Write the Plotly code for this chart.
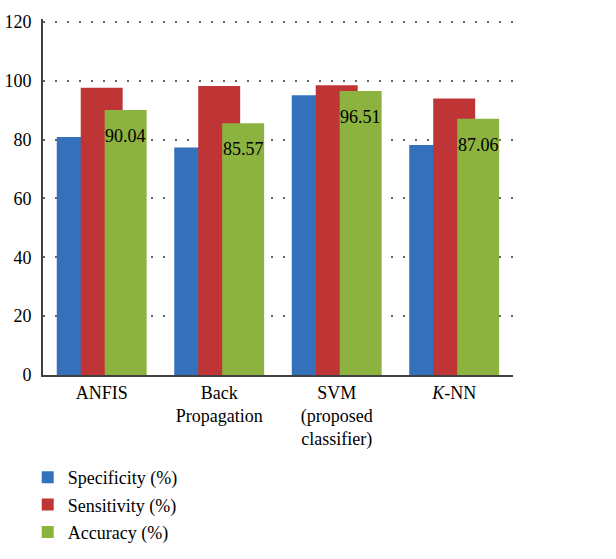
import plotly.graph_objects as go

categories = ["ANFIS", "Back<br>Propagation", "SVM<br>(proposed<br>classifier)", "<i>K</i>-NN"]
specificity = [80.9, 77.3, 95.1, 78.2]
sensitivity = [97.6, 98.2, 98.5, 94.0]
accuracy = [90.04, 85.57, 96.51, 87.06]
accuracy_labels = ["90.04", "85.57", "96.51", "87.06"]
series_names = ["Specificity (%)", "Sensitivity (%)", "Accuracy (%)"]
y_ticks = [0, 20, 40, 60, 80, 100, 120]

FONT = "Liberation Serif, Times New Roman, serif"
colors = ["#3570bb", "#bf3535", "#8cb23f"]
bar_w = 0.357
offsets = [-0.383, -0.179, 0.025]

fig = go.Figure()
xs = list(range(len(categories)))
for i, (name, vals) in enumerate(zip(series_names, [specificity, sensitivity, accuracy])):
    fig.add_trace(go.Bar(
        x=xs, y=vals, name=name,
        width=bar_w, offset=offsets[i],
        marker=dict(color=colors[i], line=dict(width=0)),
        legendgroup=name,
    ))

for xi, v, lab in zip(xs, accuracy, accuracy_labels):
    fig.add_annotation(
        x=xi + offsets[2] + bar_w / 2, y=v, text=lab,
        showarrow=False, yanchor="top", xanchor="center", yshift=-14,
        font=dict(family=FONT, size=18, color="black"),
    )

fig.update_layout(
    width=616, height=559,
    margin=dict(l=43, r=103, t=19, b=184, autoexpand=False),
    plot_bgcolor="white", paper_bgcolor="white",
    barmode="overlay",
    font=dict(family=FONT, size=18, color="black"),
    legend=dict(
        xref="container", yref="container", x=0.045, y=0.179,
        xanchor="left", yanchor="top",
        orientation="v", tracegroupgap=1,
        font=dict(family=FONT, size=18, color="black"),
        bgcolor="rgba(0,0,0,0)",
    ),
    showlegend=True,
)
fig.update_xaxes(
    tickmode="array", tickvals=xs, ticktext=categories,
    range=[-0.5, 3.5], tickangle=0, automargin=False,
    showline=True, linecolor="#404040", linewidth=2,
    showgrid=False, ticks="", zeroline=False,
    tickfont=dict(family=FONT, size=18, color="black"),
)
fig.update_yaxes(
    range=[0, 121], tickvals=y_ticks, automargin=False,
    showline=True, linecolor="#404040", linewidth=2,
    showgrid=True, gridcolor="#666666", gridwidth=2, griddash="2px,10px",
    zeroline=False, ticks="",
    ticklabelstandoff=6,
    tickfont=dict(family=FONT, size=18, color="black"),
)

fig.write_html(
    "out.html",
    config={"displayModeBar": False},
    post_script="document.body.style.margin='0px';document.body.style.overflow='hidden';",
)
